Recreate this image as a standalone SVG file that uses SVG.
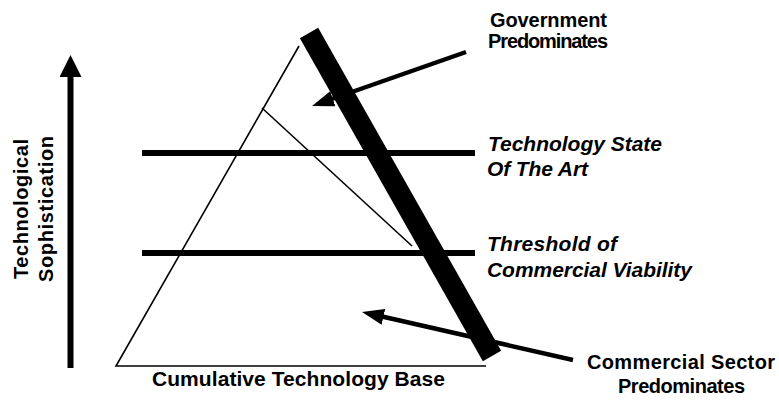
<svg xmlns="http://www.w3.org/2000/svg" width="779" height="400" viewBox="0 0 779 400">
  <defs>
    <style>
      .thin { stroke: #000; stroke-width: 1.6; fill: none; }
      .level { stroke: #000; stroke-width: 6; }
      .conn { stroke: #000; stroke-width: 4.5; fill: none; }
      .lbl { font-family: "Liberation Sans", Arial, sans-serif; font-weight: bold; font-size: 20px; fill: #000; }
      .big { font-size: 21px; }
      .ital { font-family: "Liberation Sans", Arial, sans-serif; font-weight: bold; font-style: italic; font-size: 21px; fill: #000; }
    </style>
    <marker id="head" viewBox="0 0 22 16" refX="7" refY="8" markerWidth="22" markerHeight="16" markerUnits="userSpaceOnUse" orient="auto">
      <path d="M0,0 L22,8 L0,16 z" fill="#000"/>
    </marker>
    <marker id="axis-head" viewBox="0 0 22 22" refX="2" refY="11" markerWidth="22" markerHeight="22" markerUnits="userSpaceOnUse" orient="auto">
      <path d="M0,0 L22,11 L0,22 z" fill="#000"/>
    </marker>
  </defs>

  <g id="axis">
    <line x1="70.5" y1="368" x2="70.5" y2="75" stroke="#000" stroke-width="6" marker-end="url(#axis-head)"/>
    <text class="lbl" transform="translate(28,209) rotate(-90)" text-anchor="middle" textLength="140" lengthAdjust="spacing">Technological</text>
    <text class="lbl" transform="translate(53,209) rotate(-90)" text-anchor="middle" textLength="146" lengthAdjust="spacing">Sophistication</text>
  </g>

  <g id="triangle">
    <polyline class="thin" points="486,366 116,366 299,46"/>
    <line class="thin" x1="262" y1="108" x2="412" y2="246"/>
  </g>

  <g id="state-of-art">
    <line class="level" x1="142" y1="153" x2="475" y2="153"/>
  </g>
  <g id="threshold">
    <line class="level" x1="142" y1="253" x2="475" y2="253"/>
  </g>

  <g id="divider">
    <line x1="309" y1="33" x2="492" y2="356" stroke="#000" stroke-width="21"/>
  </g>

  <g id="connectors">
    <line class="conn" x1="466" y1="52" x2="326.2" y2="101.0" marker-end="url(#head)"/>
    <line class="conn" x1="573" y1="360" x2="376.6" y2="315.3" marker-end="url(#head)"/>
  </g>

  <g id="label-government">
    <text class="lbl" x="548.5" y="27" text-anchor="middle" textLength="117" lengthAdjust="spacing">Government</text>
    <text class="lbl" x="548" y="48" text-anchor="middle" textLength="120" lengthAdjust="spacing">Predominates</text>
  </g>
  <g id="label-state-of-art">
    <text class="ital" x="488" y="151" textLength="174" lengthAdjust="spacing">Technology State</text>
    <text class="ital" x="487" y="176" textLength="101" lengthAdjust="spacing">Of The Art</text>
  </g>
  <g id="label-threshold">
    <text class="ital" x="487" y="251" textLength="130" lengthAdjust="spacing">Threshold of</text>
    <text class="ital" x="487" y="277" textLength="205" lengthAdjust="spacing">Commercial Viability</text>
  </g>
  <g id="label-commercial">
    <text class="lbl" x="681" y="369" text-anchor="middle" textLength="188" lengthAdjust="spacing">Commercial Sector</text>
    <text class="lbl" x="681.5" y="393" text-anchor="middle" textLength="127" lengthAdjust="spacing">Predominates</text>
  </g>
  <g id="label-base">
    <text class="lbl big" x="298.5" y="386" text-anchor="middle" textLength="293" lengthAdjust="spacing">Cumulative Technology Base</text>
  </g>
</svg>
